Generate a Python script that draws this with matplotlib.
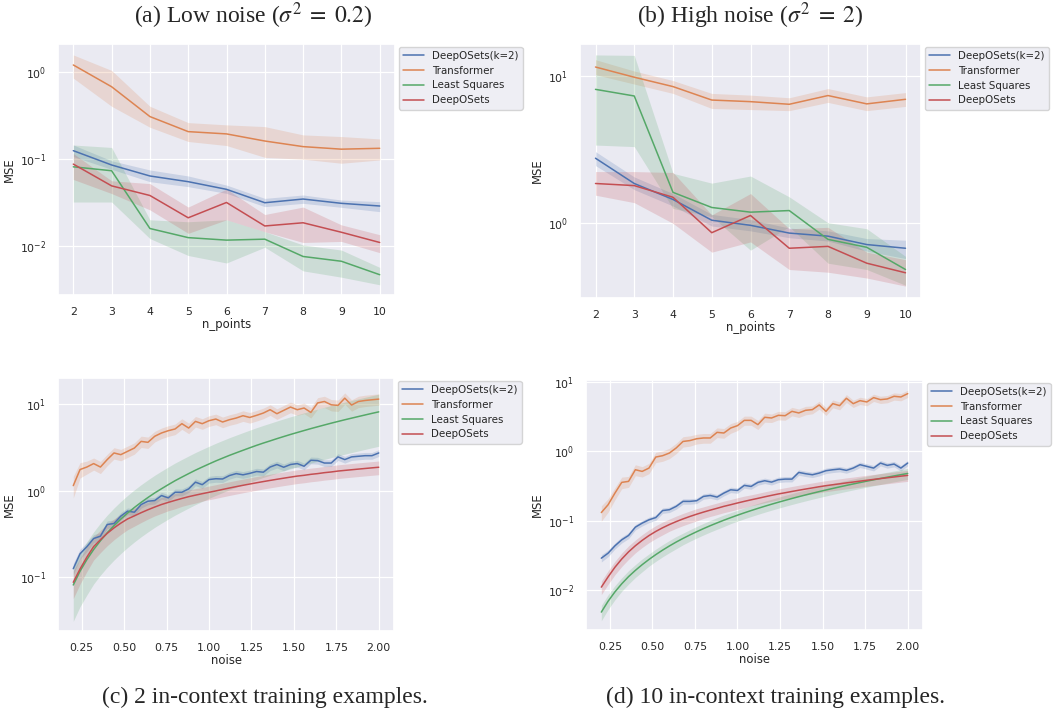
import numpy as np
import matplotlib
matplotlib.use('Agg')
import matplotlib.pyplot as plt
import seaborn as sns

sns.set_theme(style='darkgrid')
plt.rcParams['font.family'] = ['DejaVu Sans']

names = ['DeepOSets(k=2)', 'Transformer', 'Least Squares', 'DeepOSets']

# ---- (a) low noise, MSE vs n_points
n_points = [2, 3, 4, 5, 6, 7, 8, 9, 10]
a_k2 = [0.124, 0.085, 0.0636, 0.0547, 0.0447, 0.0314, 0.0346, 0.0309, 0.0288]
a_k2_lo = [0.106, 0.0758, 0.0547, 0.048, 0.0402, 0.0283, 0.0309, 0.0278, 0.0248]
a_k2_hi = [0.144, 0.095, 0.0745, 0.0636, 0.050, 0.0352, 0.0385, 0.0337, 0.0323]
a_tf = [1.19, 0.67, 0.305, 0.205, 0.193, 0.16, 0.138, 0.129, 0.132]
a_tf_lo = [0.84, 0.40, 0.23, 0.158, 0.142, 0.104, 0.099, 0.089, 0.097]
a_tf_hi = [1.55, 1.03, 0.40, 0.26, 0.245, 0.234, 0.188, 0.18, 0.169]
a_ls = [0.081, 0.073, 0.0159, 0.0125, 0.0117, 0.012, 0.0076, 0.0067, 0.0047]
a_ls_lo = [0.032, 0.032, 0.0122, 0.0078, 0.0064, 0.0097, 0.0052, 0.0044, 0.0036]
a_ls_hi = [0.144, 0.135, 0.020, 0.019, 0.020, 0.0146, 0.0103, 0.009, 0.0057]
a_ds = [0.087, 0.049, 0.038, 0.0211, 0.0316, 0.017, 0.0185, 0.0144, 0.011]
a_ds_lo = [0.058, 0.040, 0.026, 0.014, 0.020, 0.0146, 0.011, 0.0113, 0.0084]
a_ds_hi = [0.115, 0.056, 0.052, 0.028, 0.045, 0.023, 0.028, 0.0175, 0.0135]

# ---- (b) high noise, MSE vs n_points
b_k2 = [2.75, 1.85, 1.44, 1.04, 0.96, 0.85, 0.81, 0.71, 0.67]
b_k2_lo = [2.45, 1.68, 1.30, 0.95, 0.88, 0.79, 0.75, 0.64, 0.57]
b_k2_hi = [3.05, 2.05, 1.58, 1.14, 1.05, 0.92, 0.88, 0.78, 0.76]
b_tf = [11.5, 9.8, 8.46, 6.85, 6.68, 6.41, 7.35, 6.45, 6.93]
b_tf_lo = [10.2, 8.8, 7.6, 6.0, 5.9, 5.8, 6.6, 5.8, 6.2]
b_tf_hi = [12.9, 10.8, 9.3, 7.6, 7.4, 7.1, 8.2, 7.2, 7.7]
b_ls = [8.1, 7.3, 1.61, 1.27, 1.18, 1.21, 0.77, 0.68, 0.48]
b_ls_lo = [3.38, 3.3, 1.25, 1.1, 0.65, 0.94, 0.53, 0.48, 0.375]
b_ls_hi = [13.9, 13.8, 2.17, 1.86, 2.08, 1.5, 1.0, 0.91, 0.59]
b_ds = [1.85, 1.79, 1.49, 0.855, 1.12, 0.67, 0.69, 0.53, 0.456]
b_ds_lo = [1.54, 1.37, 0.99, 0.63, 0.74, 0.48, 0.46, 0.42, 0.37]
b_ds_hi = [2.23, 2.23, 2.2, 1.13, 1.58, 0.91, 0.93, 0.63, 0.56]

# ---- (c), (d) MSE vs noise
noise = [0.20, 0.24, 0.28, 0.32, 0.36, 0.40, 0.44, 0.48, 0.52, 0.56,
         0.60, 0.64, 0.68, 0.72, 0.76, 0.80, 0.84, 0.88, 0.92, 0.96,
         1.00, 1.04, 1.08, 1.12, 1.16, 1.20, 1.24, 1.28, 1.32, 1.36,
         1.40, 1.44, 1.48, 1.52, 1.56, 1.60, 1.64, 1.68, 1.72, 1.76,
         1.80, 1.84, 1.88, 1.92, 1.96, 2.00]

c_k2 = [0.125, 0.186, 0.224, 0.279, 0.297, 0.405, 0.416, 0.506, 0.578, 0.562,
        0.689, 0.753, 0.767, 0.875, 0.823, 0.956, 0.956, 1.045, 1.25, 1.17,
        1.34, 1.37, 1.36, 1.49, 1.57, 1.52, 1.58, 1.66, 1.63, 1.87,
        2.0, 1.86, 2.0, 2.05, 1.91, 2.24, 2.22, 2.08, 2.08, 2.45,
        2.28, 2.45, 2.49, 2.53, 2.53, 2.72]
c_tf = [1.14, 1.75, 1.87, 2.05, 1.87, 2.28, 2.72, 2.6, 2.84, 3.1,
        3.7, 3.61, 4.24, 4.63, 4.92, 5.15, 5.93, 5.28, 6.3, 5.93,
        6.42, 6.71, 6.2, 6.59, 6.89, 7.33, 7.0, 7.4, 7.87, 8.6,
        7.73, 8.45, 9.23, 8.6, 9.0, 8.0, 10.3, 10.7, 9.8, 9.65,
        11.7, 9.73, 10.7, 11.0, 11.2, 11.4]
c_ls = [0.081, 0.117, 0.159, 0.208, 0.263, 0.325, 0.393, 0.468, 0.549, 0.637,
        0.731, 0.831, 0.939, 1.05, 1.17, 1.30, 1.43, 1.57, 1.72, 1.87,
        2.03, 2.20, 2.37, 2.55, 2.73, 2.92, 3.12, 3.33, 3.54, 3.75,
        3.98, 4.21, 4.45, 4.69, 4.94, 5.20, 5.46, 5.73, 6.01, 6.29,
        6.58, 6.87, 7.17, 7.48, 7.80, 8.12]
c_ds = [0.087, 0.124, 0.17, 0.225, 0.27, 0.32, 0.37, 0.42, 0.47, 0.51,
        0.555, 0.60, 0.645, 0.69, 0.73, 0.77, 0.81, 0.85, 0.885, 0.92,
        0.955, 0.99, 1.03, 1.07, 1.11, 1.15, 1.19, 1.23, 1.27, 1.31,
        1.35, 1.39, 1.43, 1.47, 1.50, 1.54, 1.57, 1.61, 1.64, 1.68,
        1.71, 1.74, 1.77, 1.80, 1.83, 1.86]

# relative half-width of the confidence band
c_k2_ci = [0.15, 0.13, 0.12, 0.11, 0.10, 0.10, 0.10, 0.10, 0.09, 0.09,
           0.09, 0.09, 0.09, 0.09, 0.09, 0.09, 0.09, 0.09, 0.09, 0.09,
           0.09, 0.09, 0.09, 0.09, 0.09, 0.09, 0.09, 0.09, 0.09, 0.09,
           0.09, 0.09, 0.09, 0.09, 0.09, 0.09, 0.09, 0.09, 0.09, 0.09,
           0.09, 0.09, 0.09, 0.09, 0.09, 0.09]
c_tf_ci = [0.28, 0.20, 0.17, 0.16, 0.16, 0.15, 0.15, 0.15, 0.15, 0.15,
           0.15, 0.15, 0.14, 0.14, 0.14, 0.14, 0.14, 0.14, 0.14, 0.14,
           0.14, 0.14, 0.14, 0.14, 0.14, 0.14, 0.14, 0.14, 0.14, 0.14,
           0.14, 0.14, 0.14, 0.14, 0.14, 0.14, 0.15, 0.15, 0.15, 0.15,
           0.15, 0.15, 0.15, 0.15, 0.15, 0.15]
c_ls_ci = [0.62, 0.61, 0.61, 0.60, 0.60, 0.60, 0.60, 0.60, 0.60, 0.60,
           0.60, 0.60, 0.60, 0.60, 0.60, 0.60, 0.60, 0.60, 0.60, 0.60,
           0.60, 0.60, 0.60, 0.60, 0.60, 0.60, 0.60, 0.60, 0.60, 0.60,
           0.60, 0.60, 0.60, 0.60, 0.60, 0.60, 0.60, 0.60, 0.60, 0.60,
           0.60, 0.60, 0.60, 0.60, 0.60, 0.60]
c_ds_ci = [0.35, 0.33, 0.32, 0.30, 0.29, 0.28, 0.27, 0.26, 0.25, 0.24,
           0.23, 0.22, 0.21, 0.21, 0.20, 0.20, 0.19, 0.19, 0.19, 0.18,
           0.18, 0.18, 0.18, 0.18, 0.18, 0.18, 0.18, 0.18, 0.18, 0.18,
           0.18, 0.18, 0.18, 0.18, 0.18, 0.18, 0.18, 0.18, 0.18, 0.18,
           0.18, 0.18, 0.18, 0.18, 0.18, 0.18]

d_k2 = [0.0288, 0.034, 0.0434, 0.053, 0.0612, 0.0807, 0.0922, 0.103, 0.111, 0.14,
        0.144, 0.161, 0.19, 0.19, 0.194, 0.224, 0.231, 0.219, 0.25, 0.279,
        0.273, 0.323, 0.312, 0.357, 0.377, 0.36, 0.39, 0.398, 0.398, 0.497,
        0.476, 0.46, 0.486, 0.526, 0.543, 0.556, 0.532, 0.574, 0.642, 0.607,
        0.574, 0.678, 0.628, 0.656, 0.574, 0.678]
d_tf = [0.131, 0.17, 0.25, 0.357, 0.369, 0.543, 0.514, 0.574, 0.828, 0.866,
        0.946, 1.12, 1.39, 1.43, 1.52, 1.56, 1.56, 1.88, 1.84, 2.17,
        2.35, 2.8, 2.8, 2.43, 3.1, 3.03, 3.31, 3.27, 3.78, 3.58,
        3.91, 4.0, 4.67, 3.78, 4.88, 4.57, 5.83, 4.88, 5.39, 5.16,
        5.96, 5.57, 5.7, 6.23, 6.09, 6.8]
d_ls = [0.0048, 0.0069, 0.0094, 0.0123, 0.0156, 0.0192, 0.0232, 0.0276, 0.0324, 0.0376,
        0.0432, 0.0492, 0.0555, 0.0622, 0.0693, 0.0768, 0.0847, 0.0929, 0.1016, 0.1106,
        0.120, 0.1298, 0.140, 0.1505, 0.1615, 0.1728, 0.1845, 0.1966, 0.2091, 0.2220,
        0.2352, 0.2488, 0.2628, 0.2772, 0.2920, 0.3072, 0.3228, 0.3387, 0.3550, 0.3717,
        0.3888, 0.4063, 0.4241, 0.4424, 0.4610, 0.480]
d_ds = [0.0110, 0.0155, 0.0213, 0.0280, 0.0355, 0.0435, 0.052, 0.061, 0.070, 0.079,
        0.088, 0.097, 0.106, 0.115, 0.124, 0.133, 0.142, 0.151, 0.161, 0.170,
        0.180, 0.190, 0.200, 0.210, 0.221, 0.232, 0.243, 0.253, 0.264, 0.275,
        0.286, 0.297, 0.309, 0.320, 0.330, 0.340, 0.351, 0.361, 0.372, 0.383,
        0.394, 0.405, 0.416, 0.427, 0.439, 0.450]

d_k2_ci = [0.12, 0.11, 0.10, 0.10, 0.10, 0.09, 0.09, 0.09, 0.09, 0.09,
           0.09, 0.09, 0.09, 0.09, 0.09, 0.09, 0.09, 0.09, 0.09, 0.09,
           0.09, 0.09, 0.09, 0.09, 0.09, 0.09, 0.09, 0.09, 0.09, 0.09,
           0.09, 0.09, 0.09, 0.09, 0.09, 0.09, 0.09, 0.09, 0.09, 0.09,
           0.09, 0.09, 0.09, 0.09, 0.09, 0.09]
d_tf_ci = [0.25, 0.22, 0.20, 0.19, 0.18, 0.18, 0.17, 0.17, 0.17, 0.17,
           0.17, 0.17, 0.17, 0.17, 0.16, 0.16, 0.16, 0.16, 0.16, 0.16,
           0.15, 0.15, 0.15, 0.15, 0.15, 0.14, 0.14, 0.14, 0.14, 0.14,
           0.14, 0.13, 0.13, 0.13, 0.13, 0.13, 0.13, 0.12, 0.12, 0.12,
           0.12, 0.12, 0.12, 0.12, 0.12, 0.12]
d_ls_ci = [0.25, 0.24, 0.23, 0.22, 0.22, 0.21, 0.21, 0.20, 0.20, 0.20,
           0.20, 0.20, 0.19, 0.19, 0.19, 0.19, 0.19, 0.19, 0.19, 0.18,
           0.18, 0.18, 0.18, 0.18, 0.18, 0.18, 0.18, 0.18, 0.18, 0.18,
           0.18, 0.18, 0.18, 0.18, 0.18, 0.18, 0.18, 0.18, 0.18, 0.18,
           0.18, 0.18, 0.18, 0.18, 0.18, 0.18]
d_ds_ci = [0.22, 0.22, 0.22, 0.22, 0.22, 0.21, 0.21, 0.21, 0.21, 0.21,
           0.20, 0.20, 0.20, 0.20, 0.20, 0.19, 0.19, 0.19, 0.19, 0.19,
           0.19, 0.19, 0.18, 0.18, 0.18, 0.18, 0.18, 0.18, 0.18, 0.18,
           0.18, 0.18, 0.18, 0.18, 0.18, 0.18, 0.18, 0.18, 0.18, 0.18,
           0.18, 0.18, 0.18, 0.18, 0.18, 0.18]


def band(y, ci):
    y = np.asarray(y)
    ci = np.asarray(ci)
    return y * (1 - ci), y * (1 + ci)


def draw(ax, x, ys, bands, xlabel, xlim, ylim):
    pal = sns.color_palette('deep')
    for name, y, (lo, hi), c in zip(names, ys, bands, pal[:4]):
        ax.fill_between(x, lo, hi, color=c, alpha=0.2, lw=0)
        ax.plot(x, y, color=c, lw=1.1, label=name)
    ax.set_yscale('log')
    ax.set_xlim(*xlim)
    ax.set_ylim(*ylim)
    ax.set_xlabel(xlabel, fontsize=8.4, labelpad=1)
    ax.set_ylabel('MSE', fontsize=8.4, labelpad=3)
    ax.tick_params(labelsize=7.8, pad=2.5)
    ax.grid(True, which='major', color='white', lw=0.9)
    ax.legend(loc='upper left', bbox_to_anchor=(1.012, 0.99), fontsize=7.4,
              borderaxespad=0, handlelength=2.0, labelspacing=0.48)


W, H = 1053, 719
fig = plt.figure(figsize=(W / 100, H / 100), dpi=100)


def box(l, r, t, b):
    return [l / W, 1 - b / H, (r - l) / W, (b - t) / H]


ax_a = fig.add_axes(box(58, 395, 44, 295))
ax_b = fig.add_axes(box(580, 921, 44, 298))
ax_c = fig.add_axes(box(58, 394, 378, 631))
ax_d = fig.add_axes(box(586, 923, 380, 630))

draw(ax_a, n_points, [a_k2, a_tf, a_ls, a_ds],
     [(a_k2_lo, a_k2_hi), (a_tf_lo, a_tf_hi), (a_ls_lo, a_ls_hi), (a_ds_lo, a_ds_hi)],
     'n_points', (1.6, 10.4), (0.00275, 2.07))
draw(ax_b, n_points, [b_k2, b_tf, b_ls, b_ds],
     [(b_k2_lo, b_k2_hi), (b_tf_lo, b_tf_hi), (b_ls_lo, b_ls_hi), (b_ds_lo, b_ds_hi)],
     'n_points', (1.6, 10.4), (0.307, 16.5))
draw(ax_c, noise, [c_k2, c_tf, c_ls, c_ds],
     [band(c_k2, c_k2_ci), band(c_tf, c_tf_ci), band(c_ls, c_ls_ci), band(c_ds, c_ds_ci)],
     'noise', (0.11, 2.09), (0.0238, 20))
draw(ax_d, noise, [d_k2, d_tf, d_ls, d_ds],
     [band(d_k2, d_k2_ci), band(d_tf, d_tf_ci), band(d_ls, d_ls_ci), band(d_ds, d_ds_ci)],
     'noise', (0.11, 2.09), (0.00265, 10.7))

for ax in (ax_c, ax_d):
    ax.set_xticks([0.25, 0.5, 0.75, 1.0, 1.25, 1.5, 1.75, 2.0])

cap = dict(ha='center', va='center', fontsize=17, family='Liberation Serif',
           math_fontfamily='stix')
fig.text(253 / W, 1 - 16 / H, r'(a) Low noise ($\sigma^2\;=\;0.2$)', **cap)
fig.text(750 / W, 1 - 16 / H, r'(b) High noise ($\sigma^2\;=\;2$)', **cap)
fig.text(265 / W, 1 - 697 / H, '(c) 2 in-context training examples.', **cap)
fig.text(775 / W, 1 - 697 / H, '(d) 10 in-context training examples.', **cap)

fig.savefig('out.png', dpi=100)
